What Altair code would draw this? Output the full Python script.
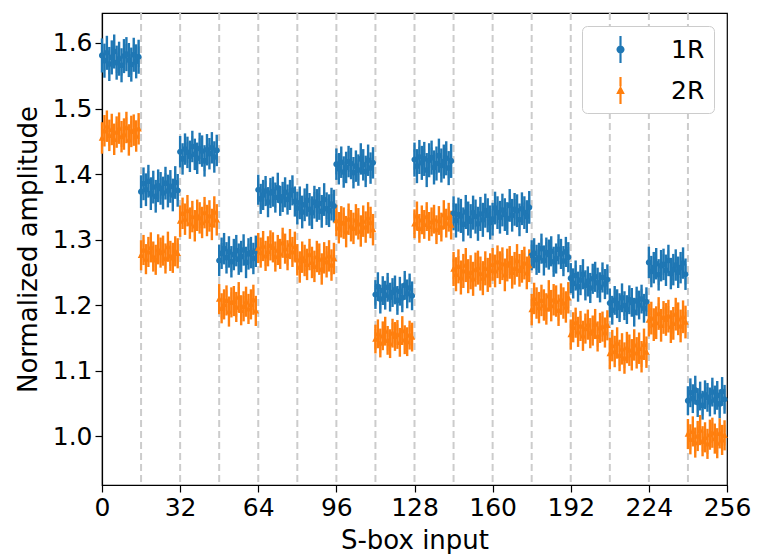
import altair as alt
import pandas as pd

# ---------------- data ----------------
series_names = ["1R", "2R"]
series_colors = ["#1f77b4", "#ff7f0e"]
x_ticks = [0, 32, 64, 96, 128, 160, 192, 224, 256]
y_ticks = [1.0, 1.1, 1.2, 1.3, 1.4, 1.5, 1.6]
group_bounds = [16, 32, 48, 64, 80, 96, 112, 128, 144, 160, 176, 192, 208, 224, 240]

r1_values = [
    1.581, 1.573, 1.585, 1.568, 1.578, 1.587, 1.570, 1.576, 1.566, 1.580, 1.583, 1.574, 1.567, 1.582, 1.572, 1.579,
    1.373, 1.385, 1.376, 1.389, 1.370, 1.380, 1.366, 1.382, 1.378, 1.371, 1.386, 1.374, 1.381, 1.368, 1.387, 1.375,
    1.434, 1.423, 1.438, 1.433, 1.427, 1.442, 1.430, 1.424, 1.439, 1.435, 1.420, 1.437, 1.431, 1.440, 1.426, 1.436,
    1.268, 1.279, 1.286, 1.272, 1.281, 1.266, 1.277, 1.283, 1.270, 1.274, 1.284, 1.265, 1.278, 1.280, 1.271, 1.282,
    1.376, 1.362, 1.368, 1.374, 1.357, 1.371, 1.373, 1.364, 1.379, 1.359, 1.365, 1.372, 1.361, 1.368, 1.375, 1.358,
    1.348, 1.356, 1.342, 1.353, 1.360, 1.346, 1.341, 1.357, 1.352, 1.355, 1.343, 1.361, 1.347, 1.344, 1.354, 1.351,
    1.415, 1.408, 1.418, 1.403, 1.410, 1.419, 1.416, 1.402, 1.412, 1.406, 1.423, 1.414, 1.404, 1.421, 1.409, 1.417,
    1.216, 1.228, 1.209, 1.222, 1.215, 1.227, 1.212, 1.219, 1.223, 1.207, 1.221, 1.211, 1.230, 1.217, 1.226, 1.214,
    1.422, 1.412, 1.426, 1.417, 1.423, 1.406, 1.421, 1.425, 1.410, 1.416, 1.428, 1.413, 1.419, 1.424, 1.409, 1.420,
    1.340, 1.329, 1.338, 1.336, 1.323, 1.342, 1.332, 1.328, 1.341, 1.335, 1.324, 1.339, 1.330, 1.344, 1.337, 1.326,
    1.331, 1.348, 1.341, 1.334, 1.345, 1.338, 1.332, 1.352, 1.337, 1.346, 1.344, 1.330, 1.347, 1.341, 1.335, 1.349,
    1.276, 1.279, 1.269, 1.272, 1.286, 1.268, 1.280, 1.277, 1.282, 1.266, 1.271, 1.285, 1.278, 1.267, 1.281, 1.273,
    1.241, 1.233, 1.245, 1.228, 1.238, 1.247, 1.230, 1.236, 1.226, 1.240, 1.243, 1.234, 1.227, 1.242, 1.232, 1.239,
    1.203, 1.192, 1.207, 1.202, 1.196, 1.211, 1.199, 1.193, 1.208, 1.204, 1.189, 1.206, 1.200, 1.209, 1.195, 1.205,
    1.265, 1.251, 1.257, 1.263, 1.246, 1.260, 1.262, 1.253, 1.268, 1.248, 1.254, 1.261, 1.250, 1.257, 1.264, 1.247,
    1.054, 1.066, 1.057, 1.070, 1.051, 1.061, 1.047, 1.063, 1.059, 1.052, 1.067, 1.055, 1.062, 1.049, 1.068, 1.056,
]

r2_values = [
    1.455, 1.466, 1.473, 1.459, 1.468, 1.453, 1.464, 1.470, 1.457, 1.461, 1.471, 1.452, 1.465, 1.467, 1.458, 1.469,
    1.276, 1.284, 1.270, 1.281, 1.288, 1.274, 1.269, 1.285, 1.280, 1.283, 1.271, 1.289, 1.275, 1.272, 1.282, 1.279,
    1.328, 1.340, 1.331, 1.344, 1.325, 1.335, 1.321, 1.337, 1.333, 1.326, 1.341, 1.329, 1.336, 1.323, 1.342, 1.330,
    1.209, 1.195, 1.201, 1.207, 1.190, 1.204, 1.206, 1.197, 1.212, 1.192, 1.198, 1.205, 1.194, 1.201, 1.208, 1.191,
    1.287, 1.280, 1.290, 1.275, 1.282, 1.291, 1.288, 1.274, 1.284, 1.278, 1.295, 1.286, 1.276, 1.293, 1.281, 1.289,
    1.269, 1.258, 1.273, 1.268, 1.262, 1.277, 1.265, 1.259, 1.274, 1.270, 1.255, 1.272, 1.266, 1.275, 1.261, 1.271,
    1.329, 1.318, 1.327, 1.325, 1.312, 1.331, 1.321, 1.317, 1.330, 1.324, 1.313, 1.328, 1.319, 1.333, 1.326, 1.315,
    1.148, 1.156, 1.142, 1.153, 1.160, 1.146, 1.141, 1.157, 1.152, 1.155, 1.143, 1.161, 1.147, 1.144, 1.154, 1.151,
    1.324, 1.336, 1.317, 1.330, 1.323, 1.335, 1.320, 1.327, 1.331, 1.315, 1.329, 1.319, 1.338, 1.325, 1.334, 1.322,
    1.255, 1.247, 1.259, 1.242, 1.252, 1.261, 1.244, 1.250, 1.240, 1.254, 1.257, 1.248, 1.241, 1.256, 1.246, 1.253,
    1.262, 1.252, 1.266, 1.257, 1.263, 1.246, 1.261, 1.265, 1.250, 1.256, 1.268, 1.253, 1.259, 1.264, 1.249, 1.260,
    1.193, 1.210, 1.203, 1.196, 1.207, 1.200, 1.194, 1.214, 1.199, 1.208, 1.206, 1.192, 1.209, 1.203, 1.197, 1.211,
    1.155, 1.166, 1.173, 1.159, 1.168, 1.153, 1.164, 1.170, 1.157, 1.161, 1.171, 1.152, 1.165, 1.167, 1.158, 1.169,
    1.126, 1.138, 1.129, 1.142, 1.123, 1.133, 1.119, 1.135, 1.131, 1.124, 1.139, 1.127, 1.134, 1.121, 1.140, 1.128,
    1.177, 1.180, 1.170, 1.173, 1.187, 1.169, 1.181, 1.178, 1.183, 1.167, 1.172, 1.186, 1.179, 1.168, 1.182, 1.174,
    1.003, 0.995, 1.007, 0.990, 1.000, 1.009, 0.992, 0.998, 0.988, 1.002, 1.005, 0.996, 0.989, 1.004, 0.994, 1.001,
]

# error-bar half widths, one per block of 16 inputs
r1_err = [0.026, 0.025, 0.024, 0.024, 0.023, 0.025, 0.024, 0.022, 0.026, 0.026, 0.025, 0.023, 0.023, 0.022, 0.024, 0.022]
r2_err = [0.024, 0.023, 0.024, 0.023, 0.023, 0.024, 0.024, 0.022, 0.022, 0.026, 0.025, 0.024, 0.023, 0.024, 0.025, 0.023]

rows = []
for s, vals, errs in (("1R", r1_values, r1_err), ("2R", r2_values, r2_err)):
    for i, v in enumerate(vals):
        e = errs[i // 16]
        rows.append({"input": i, "series": s, "value": v, "lo": v - e, "hi": v + e})
df = pd.DataFrame(rows)
bounds_df = pd.DataFrame({"b": group_bounds})

# ---------------- styling ----------------
FONT = "DejaVu Sans"
# errorbar-style marker glyphs; the trailing zero-area sub-path only widens the legend frame
circle_path = ("M-0.08,-1L0.08,-1L0.08,-0.3L-0.08,-0.3Z "
               "M-0.08,0.3L0.08,0.3L0.08,1L-0.08,1Z "
               "M0.3,0A0.3,0.3,0,1,1,-0.3,0A0.3,0.3,0,1,1,0.3,0Z "
               "M6.25,0L6.25,0Z")
triangle_path = ("M-0.08,-1L0.08,-1L0.08,-0.3L-0.08,-0.3Z "
                 "M0,-0.36L0.32,0.26L-0.32,0.26Z "
                 "M-0.08,0.26L0.08,0.26L0.08,1L-0.08,1Z "
                 "M6.25,0L6.25,0Z")

x_scale = alt.Scale(domain=[0, 256], nice=False, zero=False)
y_scale = alt.Scale(domain=[0.9252, 1.6458], nice=False, zero=False)
x_axis = alt.Axis(values=x_ticks, format="d", grid=False, tickSize=7, labelPadding=3.5,
                  labelFlush=False, labelOverlap=False,
                  titleY=63, titleBaseline="alphabetic")
y_axis = alt.Axis(values=y_ticks, format=".1f", grid=False, tickSize=7, labelPadding=3,
                  labelFlush=False, labelOverlap=False,
                  titleX=-61, titleY=236)
color_scale = alt.Scale(domain=series_names, range=series_colors)
shape_scale = alt.Scale(domain=series_names, range=[circle_path, triangle_path])

legend = alt.Legend(
    title=None, orient="top-right", offset=13, padding=9, rowPadding=13,
    symbolSize=729, symbolOffset=15, labelOffset=36,
    labelFontSize=25, labelFont=FONT, labelColor="black",
    strokeColor="#cccccc", cornerRadius=5, fillColor="white",
)


def xenc(field):
    return alt.X(f"{field}:Q", scale=x_scale, axis=x_axis, title="S-box input")


def yenc(field):
    return alt.Y(f"{field}:Q", scale=y_scale, axis=y_axis, title="Normalized amplitude")


dividers = alt.Chart(bounds_df).mark_rule(
    color="#cccccc", strokeDash=[7, 4], strokeWidth=2
).encode(x=xenc("b"))

errbar_layers = []
for name, col in zip(series_names, series_colors):
    errbar_layers.append(
        alt.Chart(df).transform_filter(alt.datum.series == name)
        .mark_rule(strokeWidth=2.4, color=col)
        .encode(x=xenc("input"), y=yenc("lo"), y2="hi:Q")
    )

points = alt.Chart(df).mark_point(filled=True, opacity=1, size=420).encode(
    x=xenc("input"),
    y=yenc("value"),
    color=alt.Color("series:N", scale=color_scale, legend=legend),
    shape=alt.Shape("series:N", scale=shape_scale, legend=legend),
)

chart = alt.layer(dividers, *errbar_layers, points).properties(
    width=625,
    height=472,
    autosize=alt.AutoSizeParams(type="none"),
    padding={"left": 94, "top": 5, "right": 25, "bottom": 69},
).configure_view(
    stroke="black", strokeWidth=1.2
).configure_axis(
    labelFont=FONT, titleFont=FONT, labelFontSize=25, titleFontSize=26,
    titleFontWeight="normal", labelColor="black", titleColor="black",
    domainColor="black", tickColor="black", domainWidth=1.2, tickWidth=1.2,
)

chart.save("out.html", embed_options={"renderer": "svg", "actions": False})
